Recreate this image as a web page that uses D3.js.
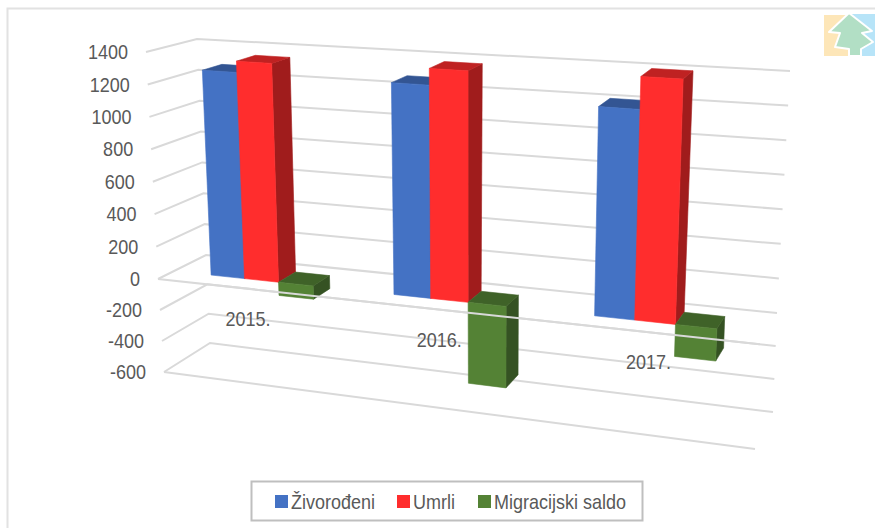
<!DOCTYPE html>
<html><head><meta charset="utf-8">
<script src="https://cdn.jsdelivr.net/npm/d3@7"></script>
<style>html,body{margin:0;padding:0;background:#fff}svg{display:block}text{font-family:"Liberation Sans",Arial,sans-serif}</style>
</head><body><div id="c"></div>
<script>
const categories = ["2015.", "2016.", "2017."];
const seriesNames = ["Živorođeni", "Umrli", "Migracijski saldo"];
const zivorodeni = [1275, 1275, 1215];
const umrli = [1345, 1375, 1405];
const saldo = [-85, -500, -190];
const tickValues = [1400, 1200, 1000, 800, 600, 400, 200, 0, -200, -400, -600];
const frontColors = ["#4472C4", "#FF2D2D", "#548235"];
const topColors = ["#335593", "#BF2222", "#3F6228"];
const sideColors = ["#2F4F88", "#A01C1C", "#355223"];

const W = 875, H = 528;
const svg = d3.select("#c").append("svg").attr("width", W).attr("height", H);
const VD = [-600, 0, 1400];
const lin = (r) => d3.scaleLinear().domain(VD).range(r);
// wall / floor corners as functions of value
const flX = lin([164, 158, 146]), flY = lin([372, 279, 52]);
const blX = lin([210, 206, 197]), blY = lin([343, 255, 39]);
const brX = lin([773, 777, 790]), brY = lin([412, 313, 71]);
const frX = lin([755, 760, 770]), frY = lin([449, 344.3, 93]);

function P(u, d, v) { // u: along the width, d: 0 back .. 1 front
  const bx = d3.interpolateNumber(blX(v), brX(v))(u), by = d3.interpolateNumber(blY(v), brY(v))(u);
  const fx = d3.interpolateNumber(flX(v), frX(v))(u), fy = d3.interpolateNumber(flY(v), frY(v))(u);
  return [bx + (fx - bx) * d, by + (fy - by) * d];
}
// categories and series through band scales, then foreshortened along the width
const catBand = d3.scaleBand().domain(categories).range([0, 2.57]).paddingInner(0.43).paddingOuter(0);
const serBand = d3.scaleBand().domain(seriesNames).range([0, catBand.bandwidth()]);
const warp = (t) => 0.063 + 0.294 * t + 0.015 * t * t;
const D_FRONT = 0.67, D_BACK = 0.27;
const line = d3.line();
const GRID = "#D9D9D9";
// the reference text is tall and slightly condensed
const squeeze = (sel, x, y) => sel.attr("transform", (d, i) => `translate(${x(d, i)},${y(d, i)}) scale(0.9,1)`);

// frame
svg.append("path").attr("d", "M7.5,528V8.5H875").attr("fill", "none").attr("stroke", "#E2E2E2").attr("stroke-width", 2);

// logo
const logo = svg.append("g");
logo.append("rect").attr("x", 824).attr("y", 15).attr("width", 26).attr("height", 41).attr("fill", "#FDE6B8");
logo.append("rect").attr("x", 850).attr("y", 14).attr("width", 25).attr("height", 42).attr("fill", "#B7E4F8");
logo.append("path").attr("d", "M849,13L829,32L840,33L835,47L849,49V56H861V49L873,42L862,33L872,31Z")
  .attr("fill", "#B2DFC5").attr("stroke", "#fff").attr("stroke-width", 2).attr("stroke-linejoin", "round");

// back gridlines and left wall
const gridG = svg.append("g").attr("fill", "none").attr("stroke", GRID).attr("stroke-width", 2);
gridG.selectAll("path").data(tickValues).join("path")
  .attr("d", v => line([[flX(v), flY(v)], [blX(v), blY(v)], [brX(v), brY(v)]]));
gridG.append("path").attr("d", line([[flX(-600), flY(-600)], [frX(-600), frY(-600)]]));

// bars
const series = [zivorodeni, umrli, saldo];
const barsG = svg.append("g");
categories.forEach((c, ci) => {
  seriesNames.forEach((s, si) => {
    const t0 = catBand(c) + serBand(s), t1 = t0 + serBand.bandwidth();
    const u0 = warp(t0), u1 = warp(t1);
    const val = series[si][ci];
    const top = Math.max(val, 0), bot = Math.min(val, 0);
    const g = barsG.append("g").attr("stroke-width", 0.6).attr("stroke-linejoin", "round");
    const face = (pts, col) => g.append("path").attr("d", line(pts) + "Z").attr("fill", col).attr("stroke", col);
    face([P(u1, D_FRONT, top), P(u1, D_BACK, top), P(u1, D_BACK, bot), P(u1, D_FRONT, bot)], sideColors[si]);
    face([P(u0, D_FRONT, top), P(u0, D_BACK, top), P(u1, D_BACK, top), P(u1, D_FRONT, top)], topColors[si]);
    face([P(u0, D_FRONT, top), P(u1, D_FRONT, top), P(u1, D_FRONT, bot), P(u0, D_FRONT, bot)], frontColors[si]);
  });
});

// front edge of the zero plane
svg.append("path").attr("d", line([[flX(0), flY(0)], [frX(0), frY(0)]]))
  .attr("fill", "none").attr("stroke", GRID).attr("stroke-width", 2);

// value labels
svg.append("g").selectAll("text").data(tickValues).join("text")
  .call(squeeze, v => flX(v) - 18, v => flY(v)).attr("dy", "0.36em")
  .attr("text-anchor", "end").attr("font-size", 20).attr("fill", "#595959").text(v => v);

// category labels
const labelPt = c => P(warp(catBand(c) + catBand.bandwidth() / 2), 1, 0);
svg.append("g").selectAll("text").data(categories).join("text")
  .call(squeeze, c => labelPt(c)[0] + 1, c => labelPt(c)[1] + 30)
  .attr("dy", "0.36em").attr("text-anchor", "middle").attr("font-size", 20).attr("fill", "#595959").text(c => c);

// legend
const legX = [275, 397, 478];
const lg = svg.append("g");
lg.append("rect").attr("x", 251.5).attr("y", 481.5).attr("width", 391).attr("height", 39)
  .attr("fill", "#fff").attr("stroke", "#BFBFBF").attr("stroke-width", 2);
lg.selectAll("rect.sw").data(seriesNames).join("rect").attr("class", "sw")
  .attr("x", (d, i) => legX[i]).attr("y", 495).attr("width", 13).attr("height", 13).attr("fill", (d, i) => frontColors[i]);
lg.selectAll("text").data(seriesNames).join("text")
  .call(squeeze, (d, i) => legX[i] + 16, () => 502).attr("dy", "0.36em")
  .attr("font-size", 20).attr("fill", "#595959").text(d => d);
</script></body></html>
